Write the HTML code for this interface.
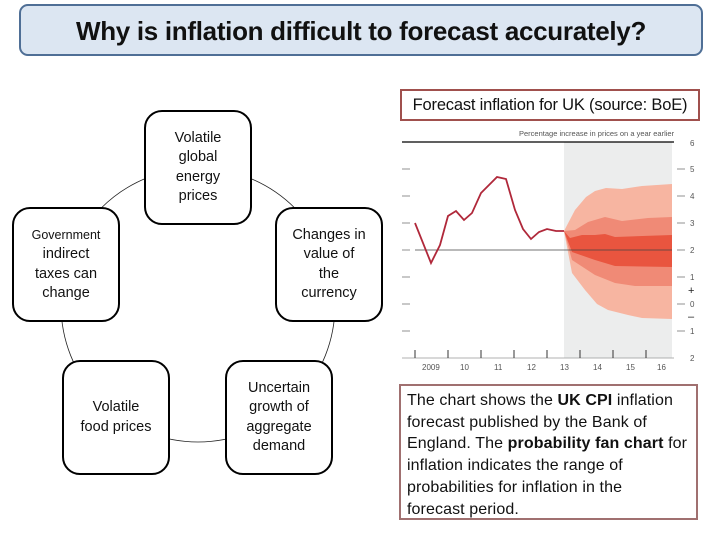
<!DOCTYPE html>
<html><head><meta charset="utf-8"><style>
body{margin:0;width:720px;height:540px;background:#fff;position:relative;overflow:hidden;font-family:"Liberation Sans",sans-serif;}
.title{position:absolute;left:19px;top:4px;width:680px;height:48px;background:#dce6f2;border:2px solid #4f6f96;border-radius:9px;text-align:center;line-height:50px;font-size:26px;font-weight:bold;color:#111;letter-spacing:-0.3px;}
.cap{position:absolute;left:400px;top:89px;width:296px;height:28px;border:2px solid #a0504d;font-size:16.5px;line-height:28px;text-align:center;color:#111;letter-spacing:-0.2px;white-space:nowrap;}
.box{position:absolute;width:104px;height:111px;border:2px solid #000;border-radius:18px;background:#fff;display:flex;align-items:center;justify-content:center;text-align:center;font-size:14.5px;line-height:19.5px;color:#111;}
.txt{position:absolute;left:399px;top:384px;width:289px;height:128px;border:2px solid #a07070;padding:4px 0 0 6px;font-size:16px;line-height:21.7px;color:#111;white-space:nowrap;letter-spacing:0.1px;}
</style></head><body>
<div class="title">Why is inflation difficult to forecast accurately?</div>
<div class="cap">Forecast inflation for UK (source: BoE)</div>
<svg style="position:absolute;left:0;top:0" width="720" height="540">
<circle cx="198" cy="305" r="137" fill="none" stroke="#222" stroke-width="0.8"/>
<g font-family="Liberation Sans" font-size="8" fill="#555">
<rect x="564" y="142" width="108" height="216" fill="#eceded"/>
<line x1="402" y1="142" x2="674" y2="142" stroke="#000" stroke-width="1.2"/>
<line x1="402" y1="358" x2="674" y2="358" stroke="#999" stroke-width="0.8"/>
<polygon fill="#f7b5a1" points="564,231 575,210 586,197 595,191 606,188 622,189 642,186 672,184 672,319 642,318 628,315 608,310 597,304 585,290 572,273"/>
<polygon fill="#f08a76" points="564,231 575,230 588,222 605,217 622,221 648,218 672,217 672,286 635,286 615,283 595,275 572,260"/>
<polygon fill="#e9553f" points="564,231 570,238 582,235 595,235 605,234 615,237 672,235 672,267 615,266 595,260 572,252"/>
<line x1="415" y1="250" x2="672" y2="250" stroke="#444" stroke-width="0.8"/>
<polyline fill="none" stroke="#b0283a" stroke-width="1.8" points="415,223 431,263 440,245 448,216 456,211 464,220 472,213 481,193 489,185 497,177 506,179 515,210 523,229 531,239 539,232 547,229 556,231 564,231"/>
<g stroke="#777" stroke-width="0.8">
<line x1="402" y1="169" x2="410" y2="169"/><line x1="402" y1="196" x2="410" y2="196"/><line x1="402" y1="223" x2="410" y2="223"/><line x1="402" y1="250" x2="410" y2="250"/><line x1="402" y1="277" x2="410" y2="277"/><line x1="402" y1="304" x2="410" y2="304"/><line x1="402" y1="331" x2="410" y2="331"/>
<line x1="677" y1="169" x2="685" y2="169"/><line x1="677" y1="196" x2="685" y2="196"/><line x1="677" y1="223" x2="685" y2="223"/><line x1="677" y1="250" x2="685" y2="250"/><line x1="677" y1="277" x2="685" y2="277"/><line x1="677" y1="304" x2="685" y2="304"/><line x1="677" y1="331" x2="685" y2="331"/>
</g>
<g stroke="#333" stroke-width="1">
<line x1="415" y1="350" x2="415" y2="358"/><line x1="448" y1="350" x2="448" y2="358"/><line x1="481" y1="350" x2="481" y2="358"/><line x1="514" y1="350" x2="514" y2="358"/><line x1="547" y1="350" x2="547" y2="358"/><line x1="580" y1="350" x2="580" y2="358"/><line x1="613" y1="350" x2="613" y2="358"/><line x1="646" y1="350" x2="646" y2="358"/>
</g>
<text x="519" y="136" font-size="7.5">Percentage increase in prices on a year earlier</text>
<text x="690" y="146">6</text><text x="690" y="172">5</text><text x="690" y="199">4</text><text x="690" y="226">3</text><text x="690" y="253">2</text><text x="690" y="280">1</text><text x="690" y="307">0</text><text x="690" y="334">1</text><text x="690" y="361">2</text>
<text x="688" y="294" font-size="11" fill="#222">+</text><text x="688" y="320" font-size="11" fill="#222">–</text>
<text x="422" y="370">2009</text><text x="460" y="370">10</text><text x="494" y="370">11</text><text x="527" y="370">12</text><text x="560" y="370">13</text><text x="593" y="370">14</text><text x="626" y="370">15</text><text x="657" y="370">16</text>
</g>
</svg>
<div class="box" style="left:144px;top:110px">Volatile<br>global<br>energy<br>prices</div>
<div class="box" style="left:12px;top:207px"><div><span style="font-size:12.5px">Government</span><br>indirect<br>taxes can<br>change</div></div>
<div class="box" style="left:275px;top:207px">Changes in<br>value of<br>the<br>currency</div>
<div class="box" style="left:62px;top:360px">Volatile<br>food prices</div>
<div class="box" style="left:225px;top:360px">Uncertain<br>growth of<br>aggregate<br>demand</div>
<div class="txt">The chart shows the <b>UK CPI</b> inflation<br>forecast published by the Bank of<br>England. The <b>probability fan chart</b> for<br>inflation indicates the range of<br>probabilities for inflation in the<br>forecast period.</div>
</body></html>
